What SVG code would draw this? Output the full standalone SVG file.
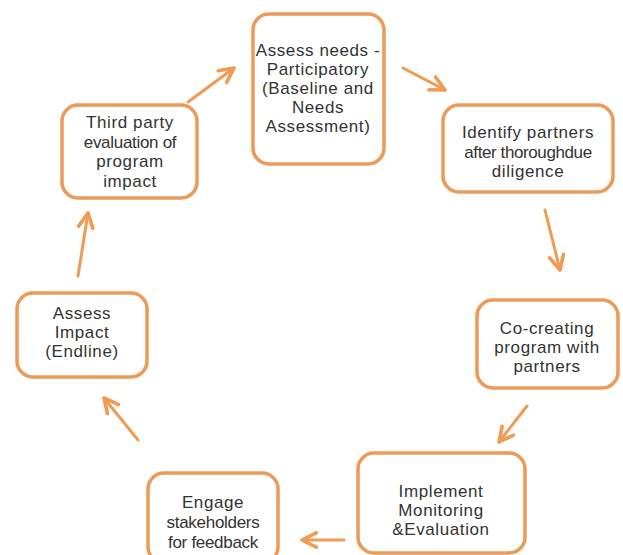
<svg xmlns="http://www.w3.org/2000/svg" width="623" height="555" viewBox="0 0 623 555">
<defs>
<style>
.box{fill:#fff;stroke:#EC9A58;stroke-width:3.5}
.t{font-family:"Liberation Sans",Arial,sans-serif;font-size:17px;fill:#333;text-anchor:middle;letter-spacing:0.6px}
.c{stroke:#F09A52;stroke-width:3;fill:none;stroke-linecap:round}
</style>
<marker id="ah" viewBox="0 0 10 10" refX="9" refY="5" markerWidth="6" markerHeight="6" orient="auto" markerUnits="strokeWidth">
<path d="M1,1 L9,5 L1,9" fill="none" stroke="#F09A52" stroke-width="2" stroke-linecap="round" stroke-linejoin="round"/>
</marker>
</defs>
<rect width="623" height="555" fill="#fff"/>
<g id="n1"><rect class="box" x="253" y="14" width="131" height="150" rx="16"/>
<text class="t"><tspan x="318" y="56">Assess needs -</tspan><tspan x="318" y="75">Participatory</tspan><tspan x="318" y="94">(Baseline and</tspan><tspan x="318" y="113">Needs</tspan><tspan x="318" y="132">Assessment)</tspan></text></g>
<g id="n2"><rect class="box" x="443" y="105" width="170" height="87" rx="16"/>
<text class="t"><tspan x="528" y="138">Identify partners</tspan><tspan x="528" y="158" letter-spacing="-0.4">after thoroughdue</tspan><tspan x="528" y="177">diligence</tspan></text></g>
<g id="n3"><rect class="box" x="477" y="300" width="141" height="88" rx="16"/>
<text class="t"><tspan x="547" y="334">Co-creating</tspan><tspan x="547" y="353">program with</tspan><tspan x="547" y="372">partners</tspan></text></g>
<g id="n4"><rect class="box" x="358" y="453" width="167" height="100" rx="16"/>
<text class="t"><tspan x="441" y="497">Implement</tspan><tspan x="441" y="516">Monitoring</tspan><tspan x="441" y="535">&amp;Evaluation</tspan></text></g>
<g id="n5"><rect class="box" x="148" y="473" width="130" height="90" rx="16"/>
<text class="t"><tspan x="213" y="508">Engage</tspan><tspan x="213" y="528" letter-spacing="-0.3">stakeholders</tspan><tspan x="213" y="548" letter-spacing="-0.3">for feedback</tspan></text></g>
<g id="n6"><rect class="box" x="17" y="293" width="130" height="84" rx="16"/>
<text class="t"><tspan x="82" y="319">Assess</tspan><tspan x="82" y="338">Impact</tspan><tspan x="82" y="357">(Endline)</tspan></text></g>
<g id="n7"><rect class="box" x="62" y="105" width="135" height="93" rx="16"/>
<text class="t"><tspan x="130" y="128">Third party</tspan><tspan x="130" y="148" letter-spacing="-0.3">evaluation of</tspan><tspan x="130" y="167">program</tspan><tspan x="130" y="187">impact</tspan></text></g>
<g id="connectors">
<line class="c" x1="188" y1="102" x2="234" y2="68" marker-end="url(#ah)" stroke-width="2"/>
<line class="c" x1="403" y1="68" x2="445" y2="90" marker-end="url(#ah)" stroke-width="3.5"/>
<line class="c" x1="545" y1="210" x2="560" y2="270" marker-end="url(#ah)"/>
<line class="c" x1="527" y1="406" x2="499" y2="442" marker-end="url(#ah)"/>
<line class="c" x1="344" y1="540" x2="302" y2="540" marker-end="url(#ah)"/>
<line class="c" x1="138" y1="440" x2="104" y2="398" marker-end="url(#ah)"/>
<line class="c" x1="78" y1="276" x2="88" y2="213" marker-end="url(#ah)"/>
</g>
</svg>
